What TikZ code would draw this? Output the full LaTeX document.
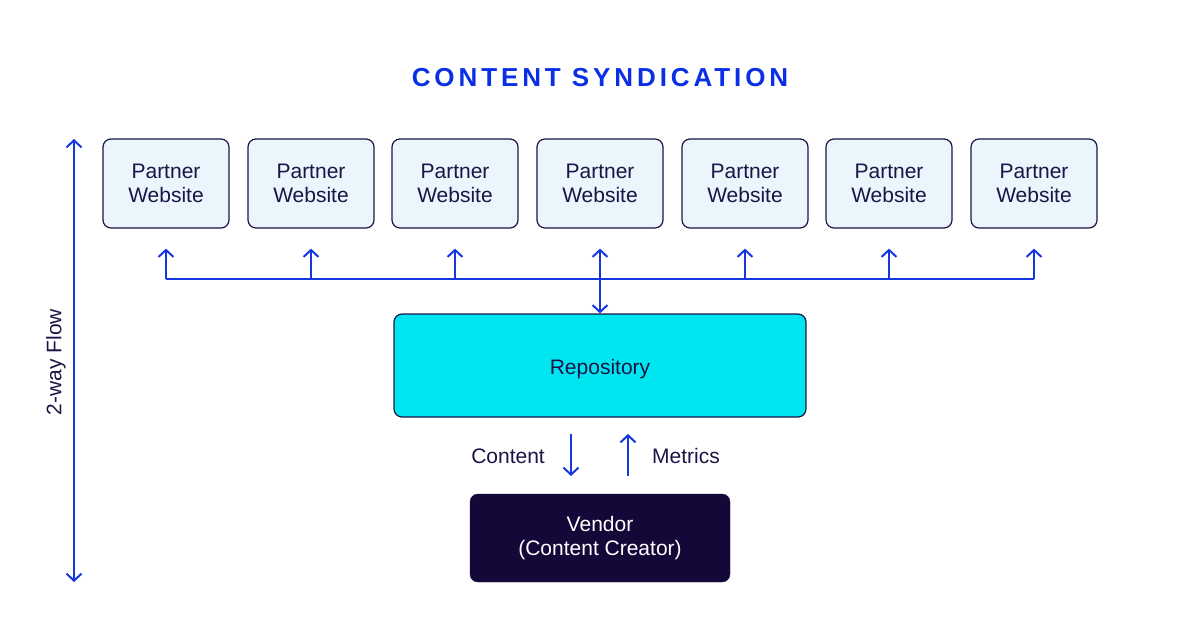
\documentclass[tikz,border=0pt]{standalone}
\usepackage{fontspec}
\setmainfont{Liberation Sans}
\usetikzlibrary{arrows.meta}
\definecolor{arrowblue}{HTML}{1537E0}
\definecolor{titleblue}{HTML}{0A2FE6}
\definecolor{navy}{HTML}{1B1446}
\definecolor{partnerfill}{HTML}{EAF6FC}
\definecolor{repofill}{HTML}{00E6F0}
\definecolor{vendorfill}{HTML}{140838}
\tikzset{
  partnerbox/.style={draw=navy, line width=1.2pt, fill=partnerfill, rounded corners=8pt,
    minimum width=126pt, minimum height=89pt, inner sep=0pt, align=center,
    text=navy, font=\fontsize{21}{24}\selectfont},
  flow/.style={draw=arrowblue, line width=2pt},
  tipend/.style={-{Straight Barb[length=7pt,width=15pt,line width=2pt]}},
  tipboth/.style={{Straight Barb[length=7pt,width=15pt,line width=2pt]}-{Straight Barb[length=7pt,width=15pt,line width=2pt]}},
  lbl/.style={text=navy, font=\fontsize{21}{24}\selectfont, inner sep=0pt}
}
\begin{document}
\begin{tikzpicture}[x=1pt,y=-1pt]
\useasboundingbox (0,0) rectangle (1201,629);
\node[text=titleblue, font=\fontsize{26}{30}\selectfont\bfseries\addfontfeatures{LetterSpace=15}] (title) at (600,78) {CONTENT SYNDICATION};
\foreach \i/\x in {1/166,2/311,3/455,4/600,5/745,6/889,7/1034}{
  \node[partnerbox] (p\i) at (\x,183.5) {Partner\\Website};
  \coordinate (b\i) at (\x,279);
}
\node[draw=navy, line width=1.2pt, fill=repofill, rounded corners=8pt, minimum width=412pt, minimum height=103pt, text=navy, font=\fontsize{21}{24}\selectfont, text height=21pt, text depth=4pt] (repo) at (600,365.5) {Repository};
\node[draw=vendorfill, fill=vendorfill, rounded corners=8pt, minimum width=260pt, minimum height=88pt, align=center, text=white, font=\fontsize{21}{24}\selectfont] (vendor) at (600,538) {Vendor\\(Content Creator)};
\draw[flow] (b1) -- (b7);
\foreach \i in {1,2,3,5,6,7}{
  \draw[flow,tipend] (b\i) -- ([yshift=-20pt]p\i.south);
}
\draw[flow,tipboth] ([yshift=-20pt]p4.south) -- (repo.north);
% content / metrics
\coordinate (c1) at (571,434);
\coordinate (c2) at (571,476);
\coordinate (m1) at (628,476);
\coordinate (m2) at (628,434);
\draw[flow,tipend] (c1) -- (c2);
\draw[flow,tipend] (m1) -- (m2);
\node[lbl, anchor=east] (content) at (545,456) {Content};
\node[lbl, anchor=west] (metrics) at (652,456) {Metrics};
% 2-way flow
\coordinate (f1) at (74,139);
\coordinate (f2) at (74,582);
\draw[flow,tipboth] (f1) -- (f2);
\node[lbl, rotate=90] (flowlbl) at (56,362) {2-way Flow};
\end{tikzpicture}
\end{document}
